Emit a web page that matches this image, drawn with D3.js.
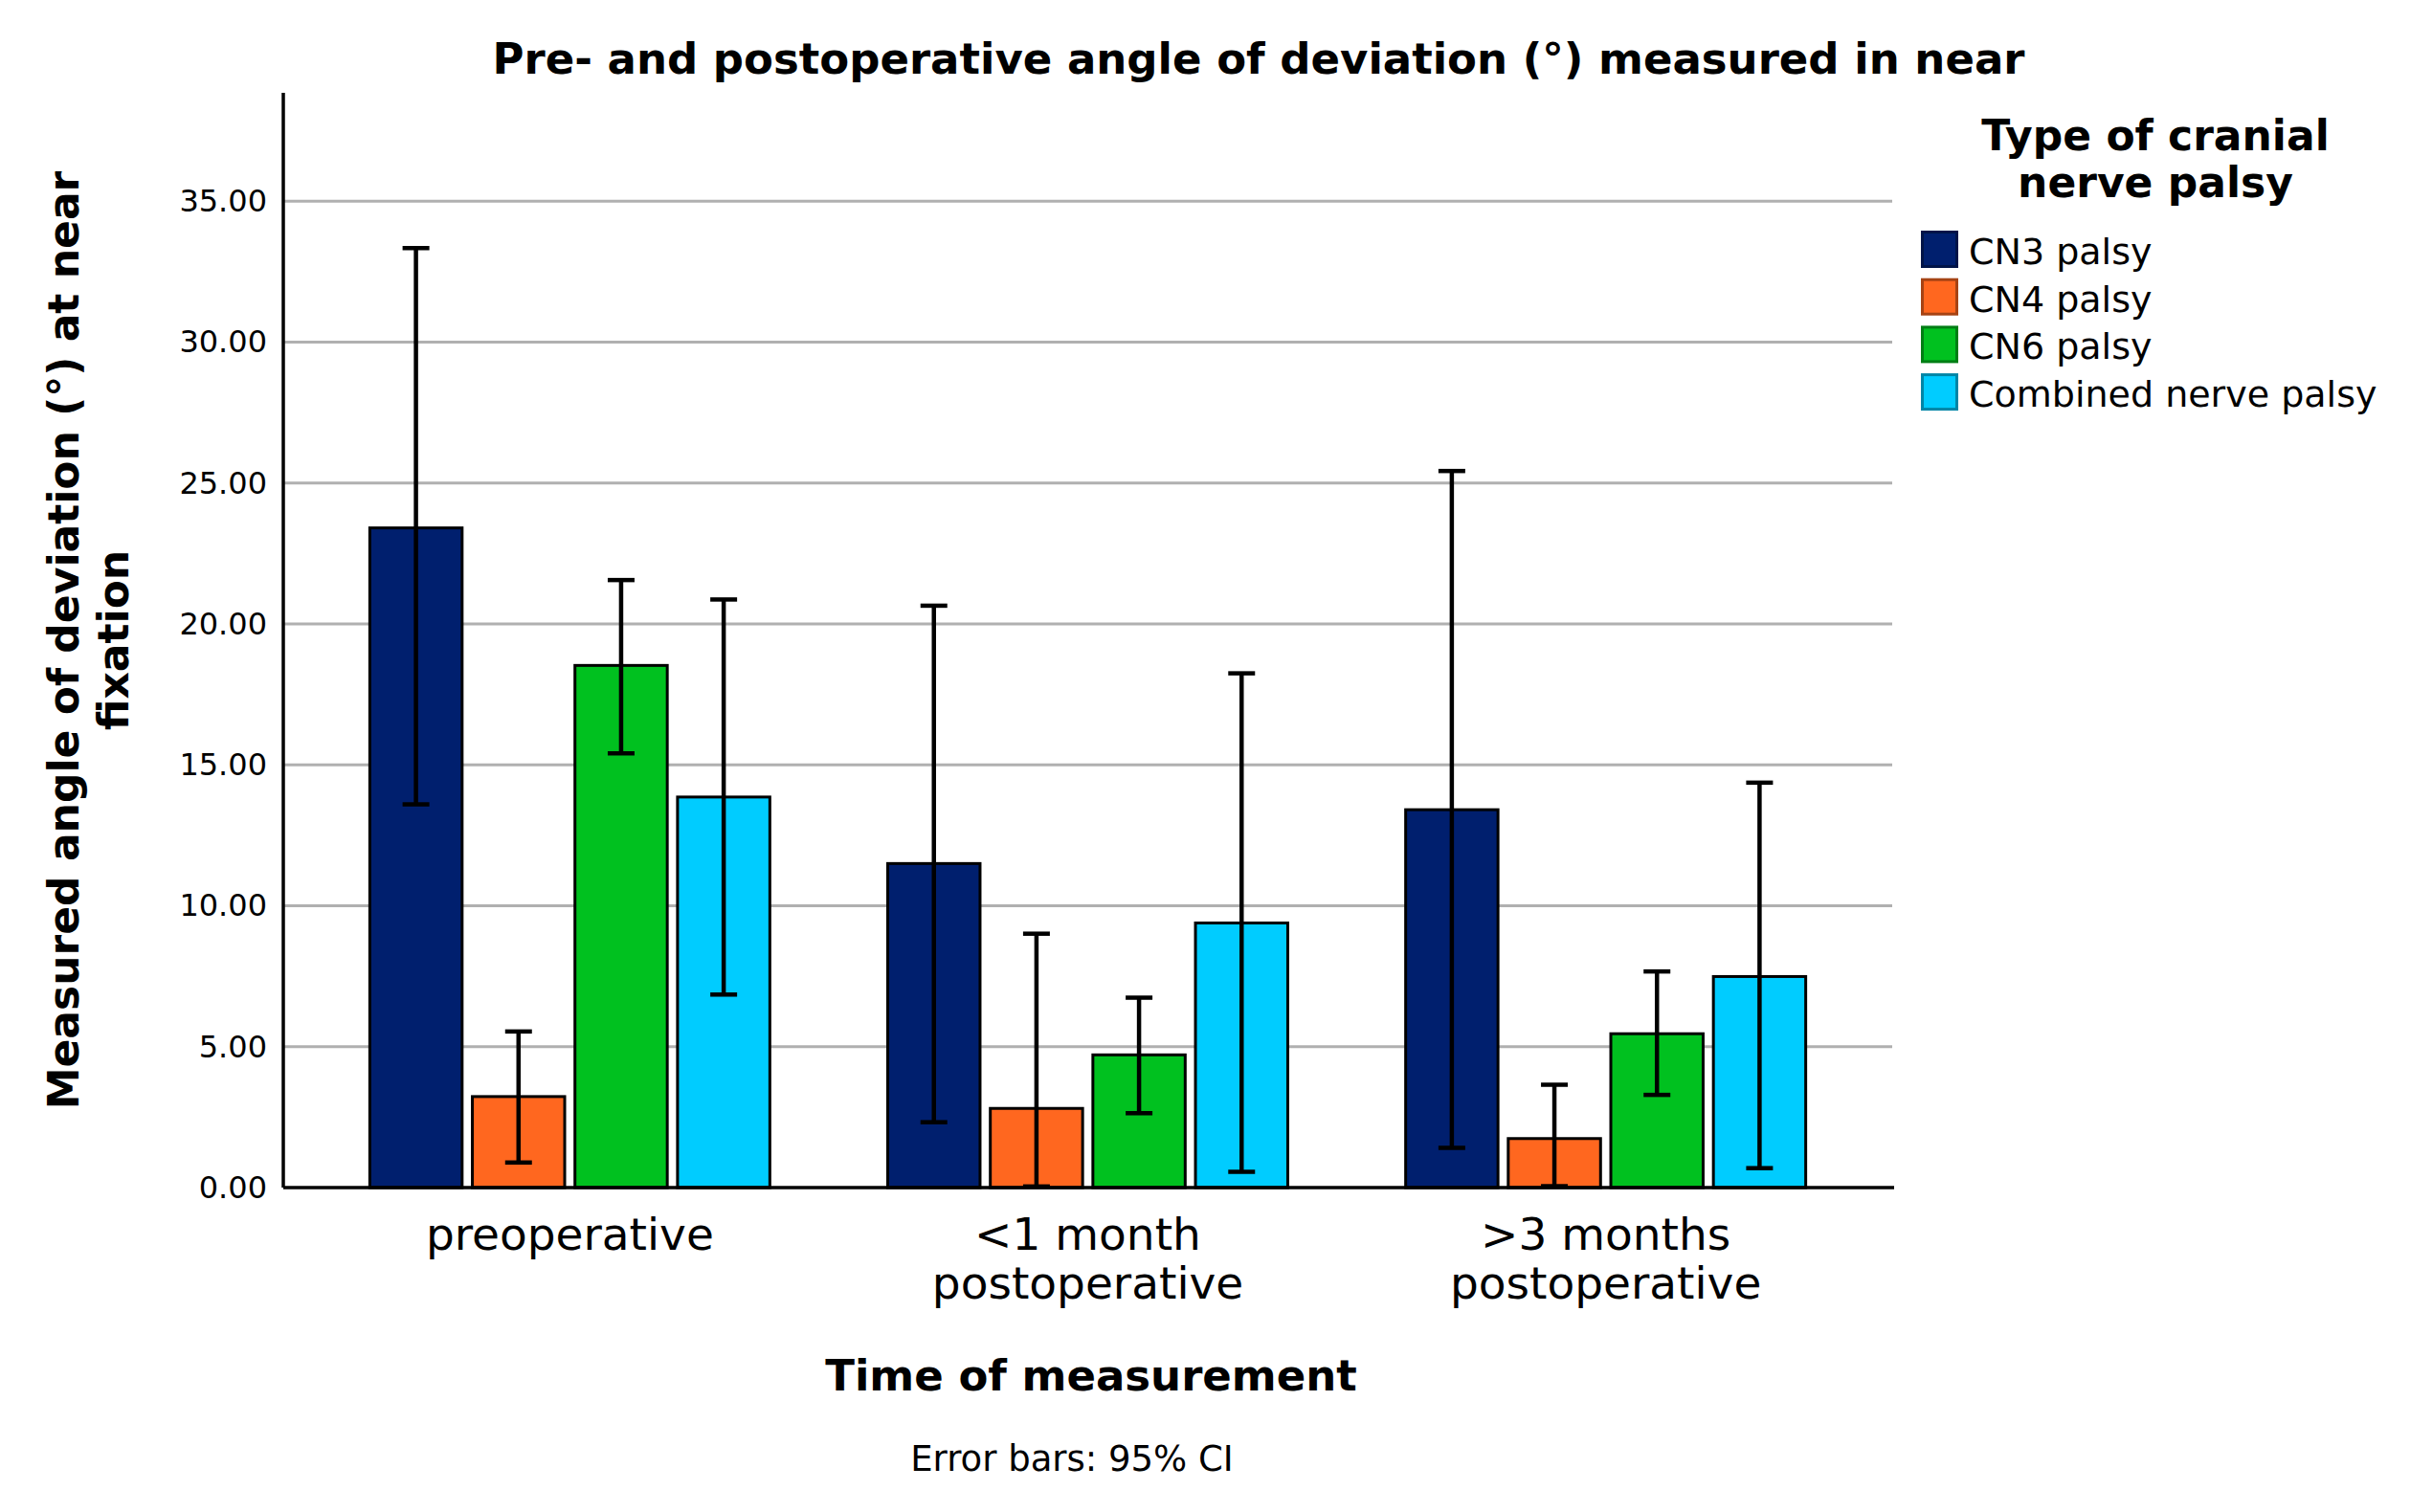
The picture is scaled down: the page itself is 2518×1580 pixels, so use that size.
<!DOCTYPE html>
<html>
<head>
<meta charset="utf-8">
<script src="https://d3js.org/d3.v7.min.js"></script>
<style>
  body { margin: 0; background: #fff; }
  svg { display: block; }
  text { font-family: "DejaVu Sans", sans-serif; fill: #000; }
</style>
</head>
<body>
<script>
// categories and series
var timepoints = ["preoperative", "<1 month postoperative", ">3 months postoperative"];
var timeLabelLines = [["preoperative"], ["<1 month", "postoperative"], [">3 months", "postoperative"]];
var palsyTypes = ["CN3 palsy", "CN4 palsy", "CN6 palsy", "Combined nerve palsy"];
var palsyColors = ["#001F6E", "#FF671F", "#00C11F", "#00CCFF"];

// mean angle per time point, and 95% CI bounds
var cn3Mean = [23.41, 11.50, 13.41];
var cn3Low  = [13.60, 2.32, 1.41];
var cn3High = [33.34, 20.65, 25.43];

var cn4Mean = [3.23, 2.81, 1.74];
var cn4Low  = [0.89, 0.04, 0.05];
var cn4High = [5.54, 9.01, 3.65];

var cn6Mean = [18.53, 4.71, 5.46];
var cn6Low  = [15.41, 2.64, 3.29];
var cn6High = [21.56, 6.74, 7.67];

var combMean = [13.86, 9.39, 7.49];
var combLow  = [6.85, 0.56, 0.69];
var combHigh = [20.87, 18.25, 14.37];

var yTicks = [0, 5, 10, 15, 20, 25, 30, 35];

var W = 2518, H = 1580;
var plotLeft = 296, plotRight = 1977, plotTop = 97, plotBottom = 1241;

var svg = d3.select("body").append("svg")
	.attr("width", W)
	.attr("height", H);

var seriesMean = [cn3Mean, cn4Mean, cn6Mean, combMean];
var seriesLow = [cn3Low, cn4Low, cn6Low, combLow];
var seriesHigh = [cn3High, cn4High, cn6High, combHigh];

var rows = [];
timepoints.forEach(function(t, ti) {
	palsyTypes.forEach(function(p, pi) {
		rows.push({ time: t, type: p, mean: seriesMean[pi][ti], lo: seriesLow[pi][ti], hi: seriesHigh[pi][ti], color: palsyColors[pi] });
	});
});

var x0 = d3.scaleBand().domain(timepoints).range([plotLeft, 1977]).paddingInner(0.2276).paddingOuter(0.167);
var x1 = d3.scaleBand().domain(palsyTypes).range([0, x0.bandwidth()]).paddingInner(0.1);
var y = d3.scaleLinear().domain([0, 38.85]).range([plotBottom, plotTop]);

// gridlines
svg.append("g")
	.selectAll("line")
	.data(yTicks.slice(1))
	.enter().append("line")
	.attr("x1", plotLeft)
	.attr("x2", plotRight)
	.attr("y1", function(d) { return y(d); })
	.attr("y2", function(d) { return y(d); })
	.attr("stroke", "#b0b0b0")
	.attr("stroke-width", 3);

// y axis
var yAxis = svg.append("g")
	.attr("transform", "translate(" + plotLeft + ",0)")
	.call(d3.axisLeft(y).tickValues(yTicks).tickSize(0).tickPadding(17).tickFormat(d3.format(".2f")));
yAxis.select(".domain").remove();
yAxis.selectAll("text")
	.style("font-size", "32px")
	.style("font-family", "DejaVu Sans");

// bars
var bars = svg.append("g");
bars.selectAll("rect")
	.data(rows)
	.enter().append("rect")
	.attr("x", function(d) { return x0(d.time) + x1(d.type); })
	.attr("y", function(d) { return y(d.mean); })
	.attr("width", x1.bandwidth())
	.attr("height", function(d) { return y(0) - y(d.mean); })
	.attr("fill", function(d) { return d.color; })
	.attr("stroke", "#000")
	.attr("stroke-width", 3);

// error bars
var capW = 28;
var eb = svg.append("g").selectAll("g")
	.data(rows)
	.enter().append("g")
	.attr("transform", function(d) { return "translate(" + (x0(d.time) + x1(d.type) + x1.bandwidth() / 2) + ",0)"; });
eb.append("line")
	.attr("x1", 0).attr("x2", 0)
	.attr("y1", function(d) { return y(d.lo); })
	.attr("y2", function(d) { return y(d.hi); })
	.attr("stroke", "#000").attr("stroke-width", 4.5);
eb.append("line")
	.attr("x1", -capW / 2).attr("x2", capW / 2)
	.attr("y1", function(d) { return y(d.hi); })
	.attr("y2", function(d) { return y(d.hi); })
	.attr("stroke", "#000").attr("stroke-width", 4.5);
eb.append("line")
	.attr("x1", -capW / 2).attr("x2", capW / 2)
	.attr("y1", function(d) { return y(d.lo); })
	.attr("y2", function(d) { return y(d.lo); })
	.attr("stroke", "#000").attr("stroke-width", 4.5);

// axis lines
svg.append("line")
	.attr("x1", plotLeft).attr("x2", plotLeft)
	.attr("y1", plotTop).attr("y2", plotBottom)
	.attr("stroke", "#000").attr("stroke-width", 3.5);
svg.append("line")
	.attr("x1", plotLeft).attr("x2", plotRight + 2)
	.attr("y1", plotBottom).attr("y2", plotBottom)
	.attr("stroke", "#000").attr("stroke-width", 3.5);

// category labels
var cat = svg.append("g").selectAll("text")
	.data(timepoints)
	.enter().append("text")
	.attr("text-anchor", "middle")
	.attr("x", function(d) { return x0(d) + x0.bandwidth() / 2; })
	.attr("y", 1306)
	.style("font-size", "47px");
cat.selectAll("tspan")
	.data(function(d, i) { return timeLabelLines[i]; })
	.enter().append("tspan")
	.attr("x", function() { var p = this.parentNode.__data__; return x0(p) + x0.bandwidth() / 2; })
	.attr("dy", function(d, i) { return i === 0 ? 0 : 51; })
	.text(function(d) { return d; });

// titles
svg.append("text")
	.attr("x", 1315).attr("y", 77)
	.attr("text-anchor", "middle")
	.style("font-size", "45px").style("font-weight", "bold")
	.text("Pre- and postoperative angle of deviation (°) measured in near");

svg.append("text")
	.attr("x", 1140).attr("y", 1453)
	.attr("text-anchor", "middle")
	.style("font-size", "45px").style("font-weight", "bold")
	.text("Time of measurement");

svg.append("text")
	.attr("x", 1120).attr("y", 1537)
	.attr("text-anchor", "middle")
	.style("font-size", "37px")
	.text("Error bars: 95% CI");

var yl = svg.append("text")
	.attr("transform", "translate(82," + ((plotTop + plotBottom) / 2) + ") rotate(-90)")
	.attr("text-anchor", "middle")
	.style("font-size", "44px").style("font-weight", "bold");
yl.append("tspan").attr("x", 0).attr("dy", 0).text("Measured angle of deviation (°) at near");
yl.append("tspan").attr("x", 0).attr("dy", 52).text("fixation");

// legend
var legend = svg.append("g");
legend.append("text")
	.attr("x", 2252).attr("y", 157)
	.attr("text-anchor", "middle")
	.style("font-size", "44px").style("font-weight", "bold")
	.text("Type of cranial");
legend.append("text")
	.attr("x", 2252).attr("y", 206)
	.attr("text-anchor", "middle")
	.style("font-size", "44px").style("font-weight", "bold")
	.text("nerve palsy");

var item = legend.selectAll("g.item")
	.data(palsyTypes)
	.enter().append("g")
	.attr("class", "item")
	.attr("transform", function(d, i) { return "translate(2007," + (241 + i * 49.7) + ")"; });
item.append("rect")
	.attr("x", 1.5).attr("y", 1.5)
	.attr("width", 36).attr("height", 36)
	.attr("fill", function(d, i) { return palsyColors[i]; })
	.attr("stroke", function(d, i) { return d3.color(palsyColors[i]).darker(1.2); })
	.attr("stroke-width", 3);
item.append("text")
	.attr("x", 50).attr("y", 35)
	.style("font-size", "38px")
	.text(function(d) { return d; });
</script>
</body>
</html>
